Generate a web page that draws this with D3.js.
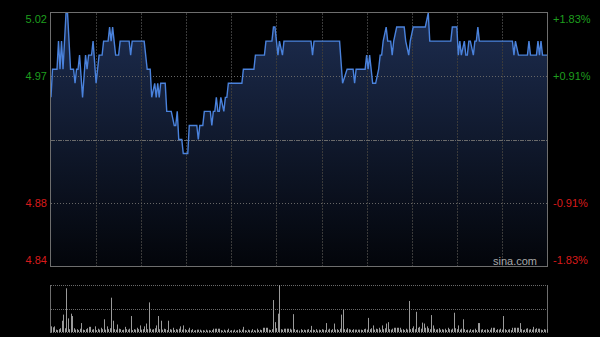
<!DOCTYPE html>
<html><head><meta charset="utf-8">
<script src="https://cdn.jsdelivr.net/npm/d3@7"></script>
<style>html,body{margin:0;padding:0;background:#000;}svg{display:block;}</style>
</head><body>
<script>
// price vertices: minute index (0..330) and price
const priceTimes = [0,1,4,5,6,7,8,10,11,13,15,16,17,18,19,21,23,24,25,27,28,30,32,34,35,38,39,40,41,43,45,46,52,53,54,62,64,66,67,69,70,71,72,73,76,77,80,82,83,84,85,87,88,91,92,97,98,99,101,102,106,107,108,109,110,111,112,113,115,116,117,118,127,128,135,136,142,143,147,148,149,151,152,154,155,173,174,175,192,194,197,201,202,203,209,210,211,212,214,216,218,219,220,221,223,224,226,227,228,230,235,236,238,239,241,249,251,252,266,267,270,271,272,273,275,276,277,278,279,281,282,283,284,285,307,308,309,311,317,318,319,323,324,325,326,327,330];
const prices = [4.96,4.98,4.98,5.00,4.98,5.00,4.98,5.02,5.02,4.98,4.98,4.97,4.98,4.98,4.99,4.96,4.99,4.98,4.99,4.99,5.00,4.97,4.99,4.99,5.00,5.00,5.01,5.00,5.01,4.99,4.99,5.00,5.00,4.99,5.00,5.00,4.98,4.98,4.96,4.97,4.96,4.97,4.96,4.97,4.97,4.95,4.95,4.94,4.94,4.95,4.93,4.93,4.92,4.92,4.94,4.94,4.93,4.94,4.94,4.95,4.95,4.94,4.95,4.95,4.96,4.95,4.95,4.96,4.95,4.96,4.96,4.97,4.97,4.98,4.98,4.99,4.99,5.00,5.00,5.01,5.01,4.99,5.00,4.99,5.00,5.00,4.99,5.00,5.00,4.97,4.98,4.98,4.97,4.98,4.98,4.99,4.98,4.99,4.97,4.97,4.98,4.99,4.99,5.00,5.01,5.00,5.00,4.99,5.00,5.01,5.01,5.00,4.99,5.00,5.01,5.01,5.02,5.00,5.00,5.01,5.01,4.99,5.00,4.99,5.00,4.99,4.99,5.00,5.00,4.99,5.00,5.00,5.01,5.00,5.00,4.99,5.00,4.99,4.99,5.00,4.99,4.99,5.00,4.99,5.00,4.99,4.99];
// per-minute volume (relative units)
const volumes = [12,10,12,5,4,6,8,24,37,8,
93,29,6,39,34,8,5,6,4,7,
19,5,4,6,8,11,11,5,6,12,
4,7,5,9,6,27,5,12,6,8,
73,24,6,5,16,7,6,4,5,11,
6,5,7,34,4,6,5,9,6,14,
5,6,12,18,6,63,7,5,6,8,
14,34,6,24,5,7,6,4,24,6,
5,9,4,6,5,7,12,5,14,6,
4,5,9,4,6,3,4,5,5,5,
3,4,3,5,3,4,3,4,7,7,
7,7,7,4,3,5,3,4,7,3,
4,3,5,3,4,6,3,5,11,4,
3,5,4,3,6,4,3,7,4,5,
4,9,9,9,9,5,4,6,68,21,
8,39,100,6,5,7,7,7,7,7,
5,38,6,4,5,3,6,4,5,4,
5,6,4,13,5,4,6,3,5,4,
6,5,4,19,5,7,4,6,18,5,
6,4,7,37,48,6,5,8,6,5,
4,6,5,5,5,5,5,4,6,7,
5,30,6,8,14,5,7,6,9,5,
14,6,8,18,21,6,5,7,9,9,
9,9,9,5,6,4,7,5,66,6,
8,12,6,43,9,11,7,20,18,9,
12,8,6,36,14,7,5,6,8,5,
6,5,7,4,9,6,5,7,41,8,
6,14,5,7,27,6,4,5,3,6,
4,5,7,4,19,19,5,6,4,5,
6,4,5,9,9,9,4,6,5,7,
5,34,6,4,5,6,4,9,9,9,
9,9,19,6,4,5,7,8,5,6,
5,11,6,8,7,7,5,4,6,5,
6];
const prevClose = 4.93;
const priceTicks = [5.02, 4.975, 4.93, 4.885, 4.84];
const priceTickLabels = ["5.02", "4.97", "", "4.88", "4.84"];
const pctTickLabels = ["+1.83%", "+0.91%", "", "-0.91%", "-1.83%"];
const timeGridMinutes = [30,60,90,120,150,180,210,240,270,300];

const W = 600, H = 337;
const L = 51, R = 547, T = 13, B = 266;
const VT = 285, VB = 332;

const svg = d3.select("body").append("svg").attr("width", W).attr("height", H)
  .style("background", "#000");

const x = d3.scaleLinear().domain([0, 330]).range([L, R]);
const y = d3.scaleLinear().domain([4.84, 5.02]).range([B, T]);
const yv = d3.scaleLinear().domain([0, 100]).range([VB, VT]);

const defs = svg.append("defs");
const grad = defs.append("linearGradient").attr("id", "ag").attr("x1", 0).attr("y1", 0).attr("x2", 0).attr("y2", 1)
  .attr("gradientUnits", "userSpaceOnUse").attr("x1", 0).attr("y1", T).attr("x2", 0).attr("y2", B);
grad.append("stop").attr("offset", "0%").attr("stop-color", "#1d2d50");
grad.append("stop").attr("offset", "100%").attr("stop-color", "#03050a");

const pts = priceTimes.map((t, i) => [t, prices[i]]);

// area
svg.append("path").datum(pts)
  .attr("d", d3.area().x(d => x(d[0])).y0(B).y1(d => y(d[1])))
  .attr("fill", "url(#ag)");

// vertical grid
svg.selectAll(".vg").data(timeGridMinutes).enter().append("line")
  .attr("x1", d => Math.round(x(d)) + 0.5).attr("x2", d => Math.round(x(d)) + 0.5)
  .attr("y1", T).attr("y2", B)
  .attr("stroke", "#3a3a3a").attr("stroke-dasharray", "2,1");

// horizontal grid
priceTicks.forEach((p, i) => {
  if (i === 0 || i === priceTicks.length - 1) return;
  const yy = Math.round(y(p)) + 0.5;
  svg.append("line").attr("x1", L).attr("x2", R).attr("y1", yy).attr("y2", yy)
    .attr("stroke", p === prevClose ? "#6a6a6a" : "#666")
    .attr("stroke-dasharray", p === prevClose ? "4,1,1,1" : "1,2");
});

// price line
svg.append("path").datum(pts)
  .attr("d", d3.line().x(d => x(d[0])).y(d => y(d[1])))
  .attr("fill", "none").attr("stroke", "#4a82dc").attr("stroke-width", 1.4);

// border
svg.append("rect").attr("x", L - 0.5).attr("y", T - 0.5).attr("width", R - L + 1).attr("height", B - T + 1)
  .attr("fill", "none").attr("stroke", "#6e6e6e");

// labels
const font = "Liberation Sans, Arial, sans-serif";
priceTicks.forEach((p, i) => {
  if (!priceTickLabels[i]) return;
  let yy = y(p);
  if (i === 0) yy += 6;
  if (i === priceTicks.length - 1) yy -= 6;
  const col = p > prevClose ? "#1e9e1e" : "#d81b1b";
  svg.append("text").attr("x", 47).attr("y", yy).attr("dy", "0.35em")
    .attr("text-anchor", "end").attr("font-family", font).attr("font-size", 11)
    .attr("fill", col).text(priceTickLabels[i]);
  svg.append("text").attr("x", 553).attr("y", yy).attr("dy", "0.35em")
    .attr("text-anchor", "start").attr("font-family", font).attr("font-size", 11)
    .attr("fill", col).text(pctTickLabels[i]);
});

svg.append("text").attr("x", 537).attr("y", 265).attr("text-anchor", "end")
  .attr("font-family", font).attr("font-size", 11).attr("fill", "#a8a8a8").text("sina.com");

// volume panel
[VT, (VT + VB) / 2, VB].forEach(v => {
  const yy = Math.round(v) + 0.5;
  svg.append("line").attr("x1", L).attr("x2", R).attr("y1", yy).attr("y2", yy)
    .attr("stroke", "#6a6a6a").attr("stroke-dasharray", "1,1");
});
svg.append("line").attr("x1", L - 0.5).attr("x2", L - 0.5).attr("y1", VT).attr("y2", VB + 1).attr("stroke", "#6e6e6e");
svg.append("line").attr("x1", R + 0.5).attr("x2", R + 0.5).attr("y1", VT).attr("y2", VB + 1).attr("stroke", "#6e6e6e");

svg.selectAll(".vb").data(volumes).enter().append("rect")
  .attr("x", (d, i) => Math.round(x(i)))
  .attr("y", d => yv(d))
  .attr("width", 1)
  .attr("height", d => VB - yv(d))
  .attr("fill", "#9a9a9a");
</script>
</body></html>
